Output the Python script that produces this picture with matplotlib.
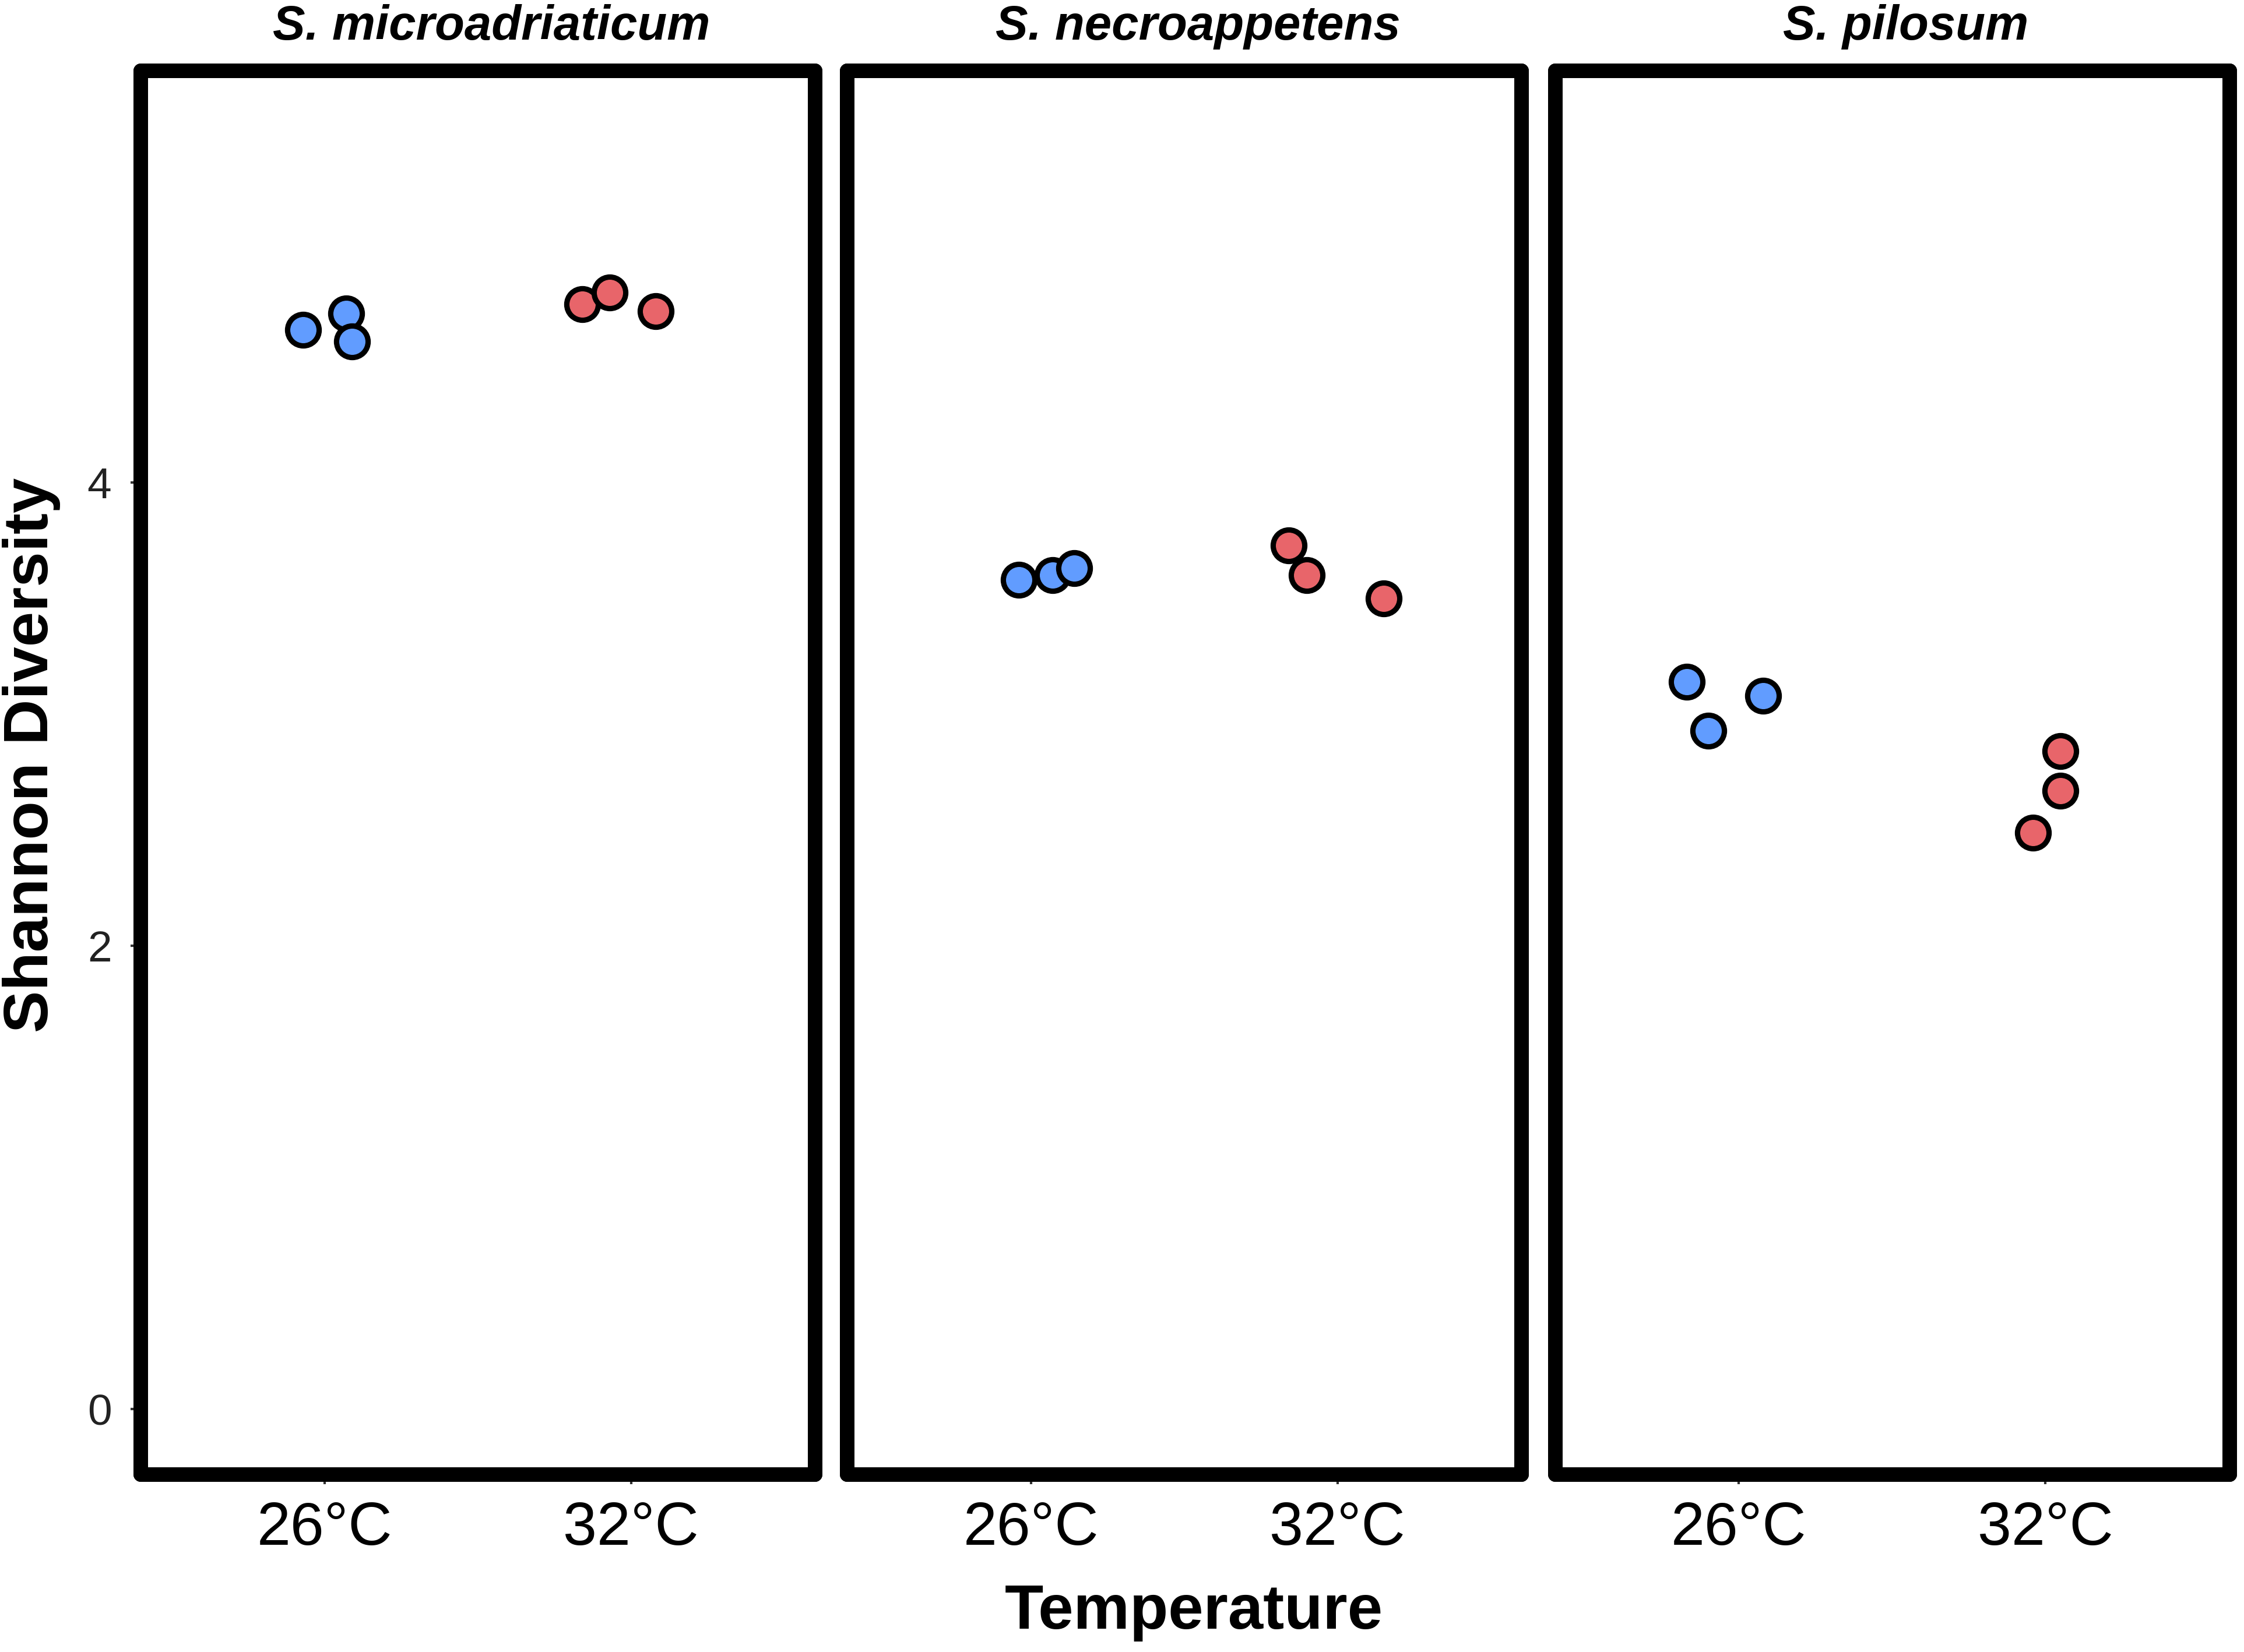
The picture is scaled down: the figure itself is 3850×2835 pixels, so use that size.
import matplotlib
matplotlib.use("Agg")
from matplotlib import pyplot as plt
import numpy as np

plt.rcParams['font.family'] = ['Liberation Sans', 'DejaVu Sans']

# Daten
species = ['S. microadriaticum', 'S. necroappetens', 'S. pilosum']
temps = ['26°C', '32°C']

# Shannon-Werte pro Art und Temperatur (26°C, 32°C)
shannon_26 = [
    [4.66, 4.73, 4.61],
    [3.58, 3.60, 3.63],
    [3.14, 2.93, 3.08],
]
shannon_32 = [
    [4.77, 4.82, 4.74],
    [3.73, 3.60, 3.50],
    [2.84, 2.67, 2.49],
]
# Jitter (horizontal) wie im Original
jitter_26 = [
    [-0.07, 0.07, 0.09],
    [-0.04, 0.07, 0.14],
    [-0.17, -0.10, 0.08],
]
jitter_32 = [
    [-0.16, -0.07, 0.08],
    [-0.16, -0.10, 0.15],
    [0.05, 0.05, -0.04],
]

blue = '#619CFF'
red = '#E8656A'

fig = plt.figure(figsize=(3850 / 300, 2835 / 300), dpi=300)

lefts = [0.0627, 0.3775, 0.6929]
width = 0.3005
bottom = 0.1077
height = 0.9574 - bottom

for i, sp in enumerate(species):
    ax = fig.add_axes([lefts[i], bottom, width, height])
    x26 = 1 + np.array(jitter_26[i])
    x32 = 2 + np.array(jitter_32[i])
    ax.plot(x26, shannon_26[i], 'o', ms=13, mfc=blue, mec='black', mew=2.2, zorder=3)
    ax.plot(x32, shannon_32[i], 'o', ms=13, mfc=red, mec='black', mew=2.2, zorder=3)

    ax.set_xlim(0.4, 2.6)
    ax.set_ylim(-0.28, 5.78)
    ax.set_xticks([1, 2])
    ax.set_xticklabels(temps, fontsize=25)
    ax.tick_params(axis='x', length=4, width=1, color='#333333', pad=7)
    if i == 0:
        ax.set_yticks([0, 2, 4])
        ax.set_yticklabels(['0', '2', '4'], fontsize=18, color='#222222')
        ax.tick_params(axis='y', length=4, width=1, color='#333333', pad=8)
    else:
        ax.set_yticks([])

    for s in ax.spines.values():
        s.set_linewidth(6)
        s.set_color('black')
        s.set_capstyle('round')

    # Facettentitel, leicht nach rechts versetzt wie im Original
    ax.text(0.52, 1.031, sp, transform=ax.transAxes, fontsize=20, fontweight='bold',
            fontstyle='italic', ha='center', va='center')

fig.text(0.532, 0.024, 'Temperature', fontsize=26, fontweight='bold', ha='center', va='center')
fig.text(0.014, 0.543, 'Shannon Diversity', fontsize=26, fontweight='bold', rotation=90,
         ha='center', va='center')

fig.savefig('out.png', dpi=300)
